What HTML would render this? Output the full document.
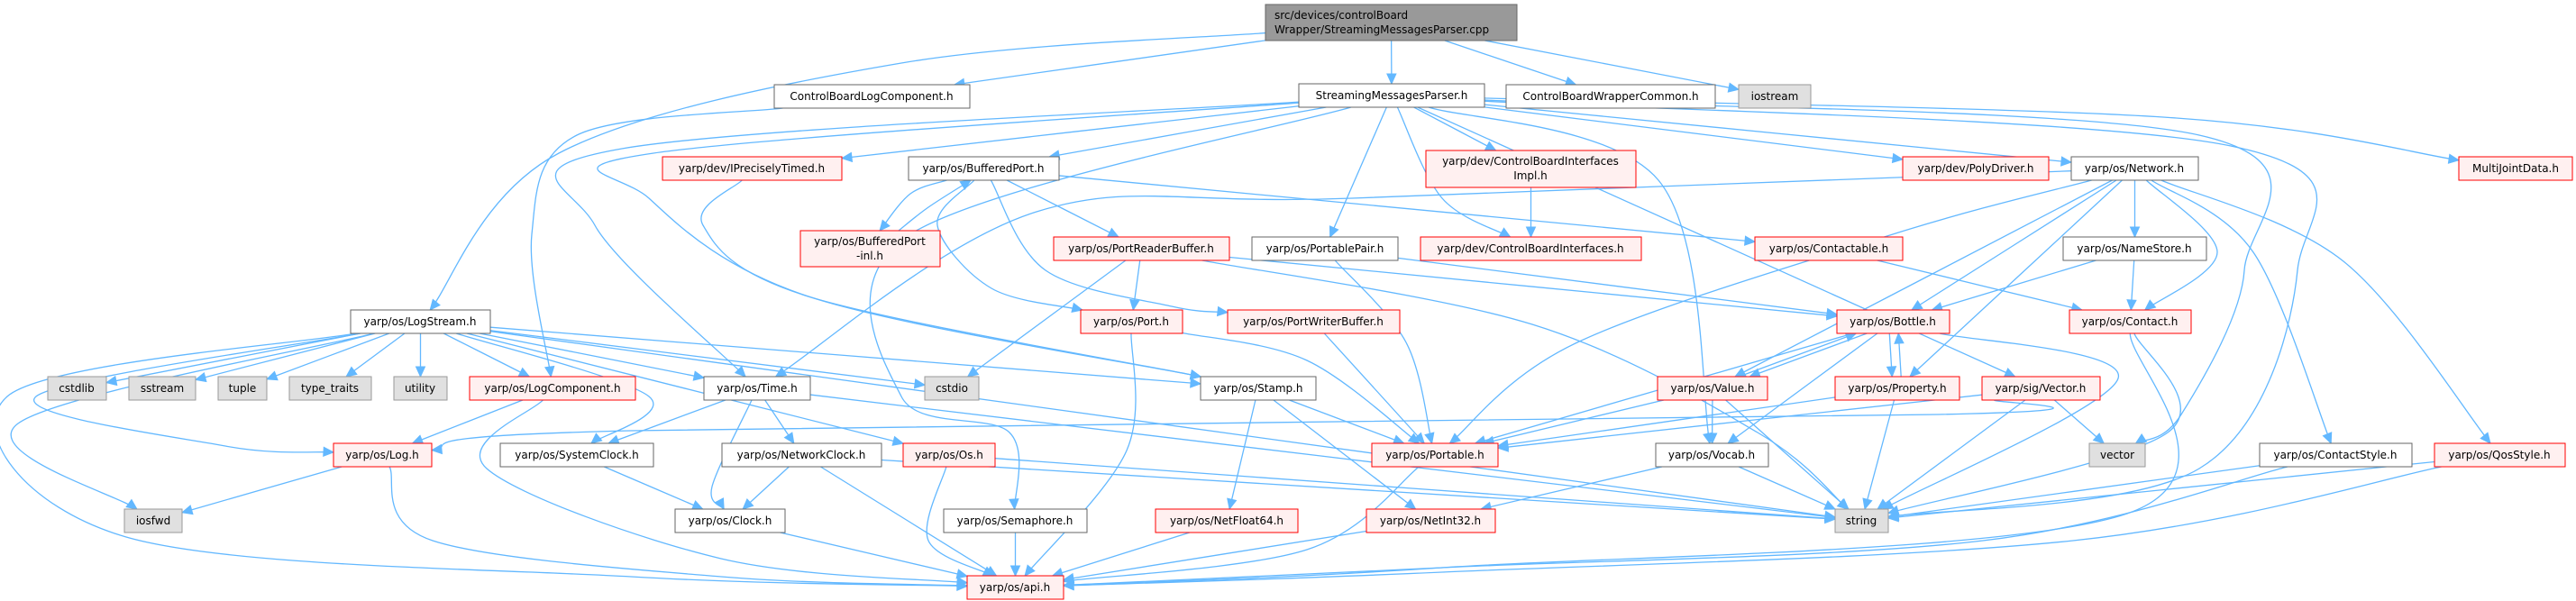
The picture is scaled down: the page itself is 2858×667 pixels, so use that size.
<!DOCTYPE html>
<html><head><meta charset="utf-8">
<style>
html,body{margin:0;padding:0;background:#fff;}
svg{display:block;}
text{font-family:"DejaVu Sans","Liberation Sans",sans-serif;font-size:12px;fill:#000;}
</style></head>
<body>
<svg id="g" width="2858" height="667" viewBox="0 0 2858 667" xmlns="http://www.w3.org/2000/svg">
<g id="edges"></g>
<g id="nodes">
<rect x="1404" y="5" width="279" height="40" fill="#999999" stroke="#666666"/>
<text x="1414" y="21">src/devices/controlBoard</text>
<text x="1414" y="37">Wrapper/StreamingMessagesParser.cpp</text>

<rect x="859" y="94" width="217" height="26" fill="#fff" stroke="#666"/><text x="967" y="111" text-anchor="middle">ControlBoardLogComponent.h</text>
<rect x="1441" y="93" width="206" height="26" fill="#fff" stroke="#666"/><text x="1544" y="110" text-anchor="middle">StreamingMessagesParser.h</text>
<rect x="1671" y="94" width="232" height="26" fill="#fff" stroke="#666"/><text x="1787" y="111" text-anchor="middle">ControlBoardWrapperCommon.h</text>
<rect x="1929" y="94" width="80" height="26" fill="#e0e0e0" stroke="#999"/><text x="1969" y="111" text-anchor="middle">iostream</text>

<rect x="735" y="174" width="199" height="26" fill="#fff0f0" stroke="#ff0000"/><text x="834" y="191" text-anchor="middle">yarp/dev/IPreciselyTimed.h</text>
<rect x="1008" y="174" width="167" height="26" fill="#fff" stroke="#666"/><text x="1091" y="191" text-anchor="middle">yarp/os/BufferedPort.h</text>
<rect x="1582" y="167" width="233" height="41" fill="#fff0f0" stroke="#ff0000"/><text x="1698" y="183" text-anchor="middle">yarp/dev/ControlBoardInterfaces</text><text x="1698" y="199" text-anchor="middle">Impl.h</text>
<rect x="2111" y="174" width="162" height="26" fill="#fff0f0" stroke="#ff0000"/><text x="2192" y="191" text-anchor="middle">yarp/dev/PolyDriver.h</text>
<rect x="2298" y="174" width="141" height="26" fill="#fff" stroke="#666"/><text x="2368" y="191" text-anchor="middle">yarp/os/Network.h</text>
<rect x="2728" y="174" width="126" height="26" fill="#fff0f0" stroke="#ff0000"/><text x="2791" y="191" text-anchor="middle">MultiJointData.h</text>

<rect x="888" y="256" width="155" height="40" fill="#fff0f0" stroke="#ff0000"/><text x="965" y="272" text-anchor="middle">yarp/os/BufferedPort</text><text x="965" y="288" text-anchor="middle">-inl.h</text>
<rect x="1169" y="263" width="195" height="26" fill="#fff0f0" stroke="#ff0000"/><text x="1266" y="280" text-anchor="middle">yarp/os/PortReaderBuffer.h</text>
<rect x="1389" y="263" width="162" height="26" fill="#fff" stroke="#666"/><text x="1470" y="280" text-anchor="middle">yarp/os/PortablePair.h</text>
<rect x="1576" y="263" width="245" height="26" fill="#fff0f0" stroke="#ff0000"/><text x="1698" y="280" text-anchor="middle">yarp/dev/ControlBoardInterfaces.h</text>
<rect x="1947" y="263" width="164" height="26" fill="#fff0f0" stroke="#ff0000"/><text x="2029" y="280" text-anchor="middle">yarp/os/Contactable.h</text>
<rect x="2289" y="263" width="159" height="26" fill="#fff" stroke="#666"/><text x="2368" y="280" text-anchor="middle">yarp/os/NameStore.h</text>

<rect x="389" y="344" width="155" height="26" fill="#fff" stroke="#666"/><text x="466" y="361" text-anchor="middle">yarp/os/LogStream.h</text>
<rect x="1199" y="344" width="113" height="26" fill="#fff0f0" stroke="#ff0000"/><text x="1255" y="361" text-anchor="middle">yarp/os/Port.h</text>
<rect x="1362" y="344" width="191" height="26" fill="#fff0f0" stroke="#ff0000"/><text x="1457" y="361" text-anchor="middle">yarp/os/PortWriterBuffer.h</text>
<rect x="2038" y="344" width="125" height="26" fill="#fff0f0" stroke="#ff0000"/><text x="2100" y="361" text-anchor="middle">yarp/os/Bottle.h</text>
<rect x="2296" y="344" width="135" height="26" fill="#fff0f0" stroke="#ff0000"/><text x="2363" y="361" text-anchor="middle">yarp/os/Contact.h</text>

<rect x="53" y="418" width="65" height="26" fill="#e0e0e0" stroke="#999"/><text x="85" y="435" text-anchor="middle">cstdlib</text>
<rect x="143" y="418" width="74" height="26" fill="#e0e0e0" stroke="#999"/><text x="180" y="435" text-anchor="middle">sstream</text>
<rect x="242" y="418" width="54" height="26" fill="#e0e0e0" stroke="#999"/><text x="269" y="435" text-anchor="middle">tuple</text>
<rect x="321" y="418" width="91" height="26" fill="#e0e0e0" stroke="#999"/><text x="366" y="435" text-anchor="middle">type_traits</text>
<rect x="437" y="418" width="59" height="26" fill="#e0e0e0" stroke="#999"/><text x="466" y="435" text-anchor="middle">utility</text>
<rect x="521" y="418" width="184" height="26" fill="#fff0f0" stroke="#ff0000"/><text x="613" y="435" text-anchor="middle">yarp/os/LogComponent.h</text>
<rect x="781" y="418" width="118" height="26" fill="#fff" stroke="#666"/><text x="840" y="435" text-anchor="middle">yarp/os/Time.h</text>
<rect x="1026" y="418" width="60" height="26" fill="#e0e0e0" stroke="#999"/><text x="1056" y="435" text-anchor="middle">cstdio</text>
<rect x="1332" y="418" width="128" height="26" fill="#fff" stroke="#666"/><text x="1396" y="435" text-anchor="middle">yarp/os/Stamp.h</text>
<rect x="1839" y="418" width="122" height="26" fill="#fff0f0" stroke="#ff0000"/><text x="1900" y="435" text-anchor="middle">yarp/os/Value.h</text>
<rect x="2036" y="418" width="138" height="26" fill="#fff0f0" stroke="#ff0000"/><text x="2105" y="435" text-anchor="middle">yarp/os/Property.h</text>
<rect x="2199" y="418" width="131" height="26" fill="#fff0f0" stroke="#ff0000"/><text x="2264" y="435" text-anchor="middle">yarp/sig/Vector.h</text>

<rect x="370" y="492" width="109" height="26" fill="#fff0f0" stroke="#ff0000"/><text x="424" y="509" text-anchor="middle">yarp/os/Log.h</text>
<rect x="555" y="492" width="170" height="26" fill="#fff" stroke="#666"/><text x="640" y="509" text-anchor="middle">yarp/os/SystemClock.h</text>
<rect x="801" y="492" width="177" height="26" fill="#fff" stroke="#666"/><text x="889" y="509" text-anchor="middle">yarp/os/NetworkClock.h</text>
<rect x="1002" y="492" width="102" height="26" fill="#fff0f0" stroke="#ff0000"/><text x="1053" y="509" text-anchor="middle">yarp/os/Os.h</text>
<rect x="1522" y="492" width="140" height="26" fill="#fff0f0" stroke="#ff0000"/><text x="1592" y="509" text-anchor="middle">yarp/os/Portable.h</text>
<rect x="1837" y="492" width="125" height="26" fill="#fff" stroke="#666"/><text x="1899" y="509" text-anchor="middle">yarp/os/Vocab.h</text>
<rect x="2318" y="492" width="62" height="26" fill="#e0e0e0" stroke="#999"/><text x="2349" y="509" text-anchor="middle">vector</text>
<rect x="2507" y="492" width="169" height="26" fill="#fff" stroke="#666"/><text x="2591" y="509" text-anchor="middle">yarp/os/ContactStyle.h</text>
<rect x="2701" y="492" width="145" height="26" fill="#fff0f0" stroke="#ff0000"/><text x="2773" y="509" text-anchor="middle">yarp/os/QosStyle.h</text>

<rect x="138" y="565" width="64" height="26" fill="#e0e0e0" stroke="#999"/><text x="170" y="582" text-anchor="middle">iosfwd</text>
<rect x="749" y="565" width="122" height="26" fill="#fff" stroke="#666"/><text x="810" y="582" text-anchor="middle">yarp/os/Clock.h</text>
<rect x="1047" y="565" width="159" height="26" fill="#fff" stroke="#666"/><text x="1126" y="582" text-anchor="middle">yarp/os/Semaphore.h</text>
<rect x="1282" y="565" width="158" height="26" fill="#fff0f0" stroke="#ff0000"/><text x="1361" y="582" text-anchor="middle">yarp/os/NetFloat64.h</text>
<rect x="1516" y="565" width="143" height="26" fill="#fff0f0" stroke="#ff0000"/><text x="1587" y="582" text-anchor="middle">yarp/os/NetInt32.h</text>
<rect x="2036" y="565" width="59" height="26" fill="#e0e0e0" stroke="#999"/><text x="2065" y="582" text-anchor="middle">string</text>

<rect x="1073" y="639" width="107" height="26" fill="#fff0f0" stroke="#ff0000"/><text x="1126" y="656" text-anchor="middle">yarp/os/api.h</text>
</g>
</svg>
<script>
var N={
root:[1404,5,1683,45],CBLC:[859,94,1076,120],SMP:[1441,93,1647,119],CBWC:[1671,94,1903,120],iostream:[1929,94,2009,120],
IPT:[735,174,934,200],BP:[1008,174,1175,200],CBII:[1582,167,1815,208],Poly:[2111,174,2273,200],Net:[2298,174,2439,200],MJD:[2728,174,2854,200],
BPI:[888,256,1043,296],PRB:[1169,263,1364,289],PP:[1389,263,1551,289],CBI:[1576,263,1821,289],Ctb:[1947,263,2111,289],NS:[2289,263,2448,289],
LS:[389,344,544,370],Port:[1199,344,1312,370],PWB:[1362,344,1553,370],Bottle:[2038,344,2163,370],Contact:[2296,344,2431,370],
cstdlib:[53,418,118,444],sstream:[143,418,217,444],tuple:[242,418,296,444],tt:[321,418,412,444],utility:[437,418,496,444],LC:[521,418,705,444],Time:[781,418,899,444],cstdio:[1026,418,1086,444],Stamp:[1332,418,1460,444],Value:[1839,418,1961,444],Prop:[2036,418,2174,444],Vec:[2199,418,2330,444],
Log:[370,492,479,518],SC:[555,492,725,518],NC:[801,492,978,518],Os:[1002,492,1104,518],Portable:[1522,492,1662,518],Vocab:[1837,492,1962,518],vector:[2318,492,2380,518],CS:[2507,492,2676,518],QS:[2701,492,2846,518],
iosfwd:[138,565,202,591],Clock:[749,565,871,591],Sem:[1047,565,1206,591],NF:[1282,565,1440,591],NI:[1516,565,1659,591],string:[2036,565,2095,591],
api:[1073,639,1180,665]};
var E=[["root","LS",[[1000,70],[620,170]]],["root","CBLC"],["root","SMP"],["root","CBWC"],["root","iostream"],["CBLC","LC",[[640,150],[590,260]]],
["SMP","IPT"],["SMP","BP"],["SMP","CBII"],["SMP","CBI",[[1600,220]]],["SMP","Poly"],["SMP","Net"],["SMP","MJD",[[2400,130]]],["SMP","PP"],["SMP","Time",[[690,165],[660,250]]],["SMP","Stamp",[[725,170],[720,220],[900,330]]],["SMP","Vocab",[[1840,200]]],["SMP","Vec"],["SMP","vector",[[2440,150],[2490,300],[2420,460]]],["SMP","string",[[2475,162],[2549,300],[2440,520]]],["SMP","Sem",[[1010,260],[1000,440],[1120,480]]],
["IPT","Stamp",[[780,250],[900,330]]],["BP","BPI",[[1010,215]],-6],["BPI","BP",[[1030,230]],6],["BP","PRB"],["BP","PWB",[[1160,300],[1300,340]]],["BP","Port",[[1040,250],[1100,320]]],["BP","Ctb"],["CBII","CBI"],
["PRB","Port"],["PRB","cstdio"],["PRB","Bottle"],["PRB","string",[[1700,360],[1950,480]]],["PP","Portable",[[1560,380]]],["PP","Bottle"],["Port","Portable",[[1450,400]]],["Port","api",[[1250,500]]],["PWB","Portable"],["Ctb","Contact"],
["Net","Time",[[1500,220],[1150,235]]],["Net","Portable",[[2100,260],[1750,380]]],["Net","Value"],["Net","Prop"],["Net","NS"],["Net","Contact",[[2460,280]]],["Net","CS",[[2500,280]]],["Net","QS",[[2600,290]]],["Net","Bottle"],
["NS","Bottle"],["NS","Contact"],["Bottle","Value",null,6],["Value","Bottle",null,-6],["Bottle","Prop",null,-5],["Prop","Bottle",null,5],["Bottle","Vocab"],["Bottle","Portable"],["Bottle","string",[[2350,420]]],
["Value","Portable"],["Value","Vocab"],["Value","string"],["Prop","Portable"],["Prop","string"],["Vec","Portable"],["Vec","vector"],["Vec","string"],["Vec","Log",[[2150,460],[700,478]]],
["Contact","string",[[2405,480]]],["Contact","api",[[2360,570],[1600,630]]],["CS","string"],["CS","api",[[2200,600],[1600,630]]],["QS","string"],["QS","api",[[2300,600],[1600,635]]],["Vocab","string"],["Vocab","NI"],
["Stamp","Portable"],["Stamp","NF"],["Stamp","NI"],["Portable","api",[[1450,610]]],["NF","api"],["NI","api"],["Sem","api"],["Os","api",[[1030,600]]],["Os","string"],
["Time","SC"],["Time","NC"],["Time","Clock",[[790,540]]],["Time","string"],["SC","Clock"],["NC","Clock"],["NC","api"],["NC","string"],["Clock","api"],
["LS","cstdlib"],["LS","sstream"],["LS","tuple"],["LS","tt"],["LS","utility"],["LS","LC"],["LS","Time"],["LS","Log",[[40,440],[250,495]]],["LS","iosfwd",[[20,470]]],["LS","api",[[8,440],[140,596],[700,640]]],["LS","SC",[[720,440]]],["LS","Os"],["LS","cstdio"],["LS","string"],["LS","Stamp"],
["LC","Log"],["LC","api",[[540,520],[800,620]]],["Log","iosfwd"],["Log","api",[[480,600],[800,640]]]];
var ns="http://www.w3.org/2000/svg",g=document.getElementById("edges"),C="#63b8ff";
function clip(b,px,py,qx,qy){
 var dx=qx-px,dy=qy-py,t=1e9;
 if(dx>0)t=Math.min(t,(b[2]-px)/dx);if(dx<0)t=Math.min(t,(b[0]-px)/dx);
 if(dy>0)t=Math.min(t,(b[3]-py)/dy);if(dy<0)t=Math.min(t,(b[1]-py)/dy);
 return [px+dx*t,py+dy*t];}
E.forEach(function(e){
 var a=N[e[0]],b=N[e[1]],via=e[2]||[],off=e[3]||0;
 var ax=(a[0]+a[2])/2+off,ay=(a[1]+a[3])/2,bx=(b[0]+b[2])/2+off,by=(b[1]+b[3])/2;
 var f=via.length?via[0]:[bx,by],l=via.length?via[via.length-1]:[ax,ay];
 var s=clip(a,ax,ay,f[0],f[1]),t=clip(b,bx,by,l[0],l[1]);
 var pts=[s].concat(via).concat([t]);
 var d="M"+pts[0][0]+","+pts[0][1];
 for(var i=0;i<pts.length-1;i++){
  var p0=pts[Math.max(0,i-1)],p1=pts[i],p2=pts[i+1],p3=pts[Math.min(pts.length-1,i+2)];
  var c1=[p1[0]+(p2[0]-p0[0])/6,p1[1]+(p2[1]-p0[1])/6],c2=[p2[0]-(p3[0]-p1[0])/6,p2[1]-(p3[1]-p1[1])/6];
  d+=" C"+c1[0]+","+c1[1]+" "+c2[0]+","+c2[1]+" "+p2[0]+","+p2[1];
 }
 var p=document.createElementNS(ns,"path");
 p.setAttribute("d",d);p.setAttribute("fill","none");p.setAttribute("stroke",C);p.setAttribute("stroke-width","1.3");
 g.appendChild(p);
 var q=pts[pts.length-2],dx=t[0]-q[0],dy=t[1]-q[1],L=Math.sqrt(dx*dx+dy*dy)||1;dx/=L;dy/=L;
 var len=11,w=5,bx0=t[0]-dx*len,by0=t[1]-dy*len;
 var tr=document.createElementNS(ns,"polygon");
 tr.setAttribute("points",t[0]+","+t[1]+" "+(bx0-dy*w)+","+(by0+dx*w)+" "+(bx0+dy*w)+","+(by0-dx*w));
 tr.setAttribute("fill",C);tr.setAttribute("stroke",C);
 g.appendChild(tr);
});
</script>
</body></html>
